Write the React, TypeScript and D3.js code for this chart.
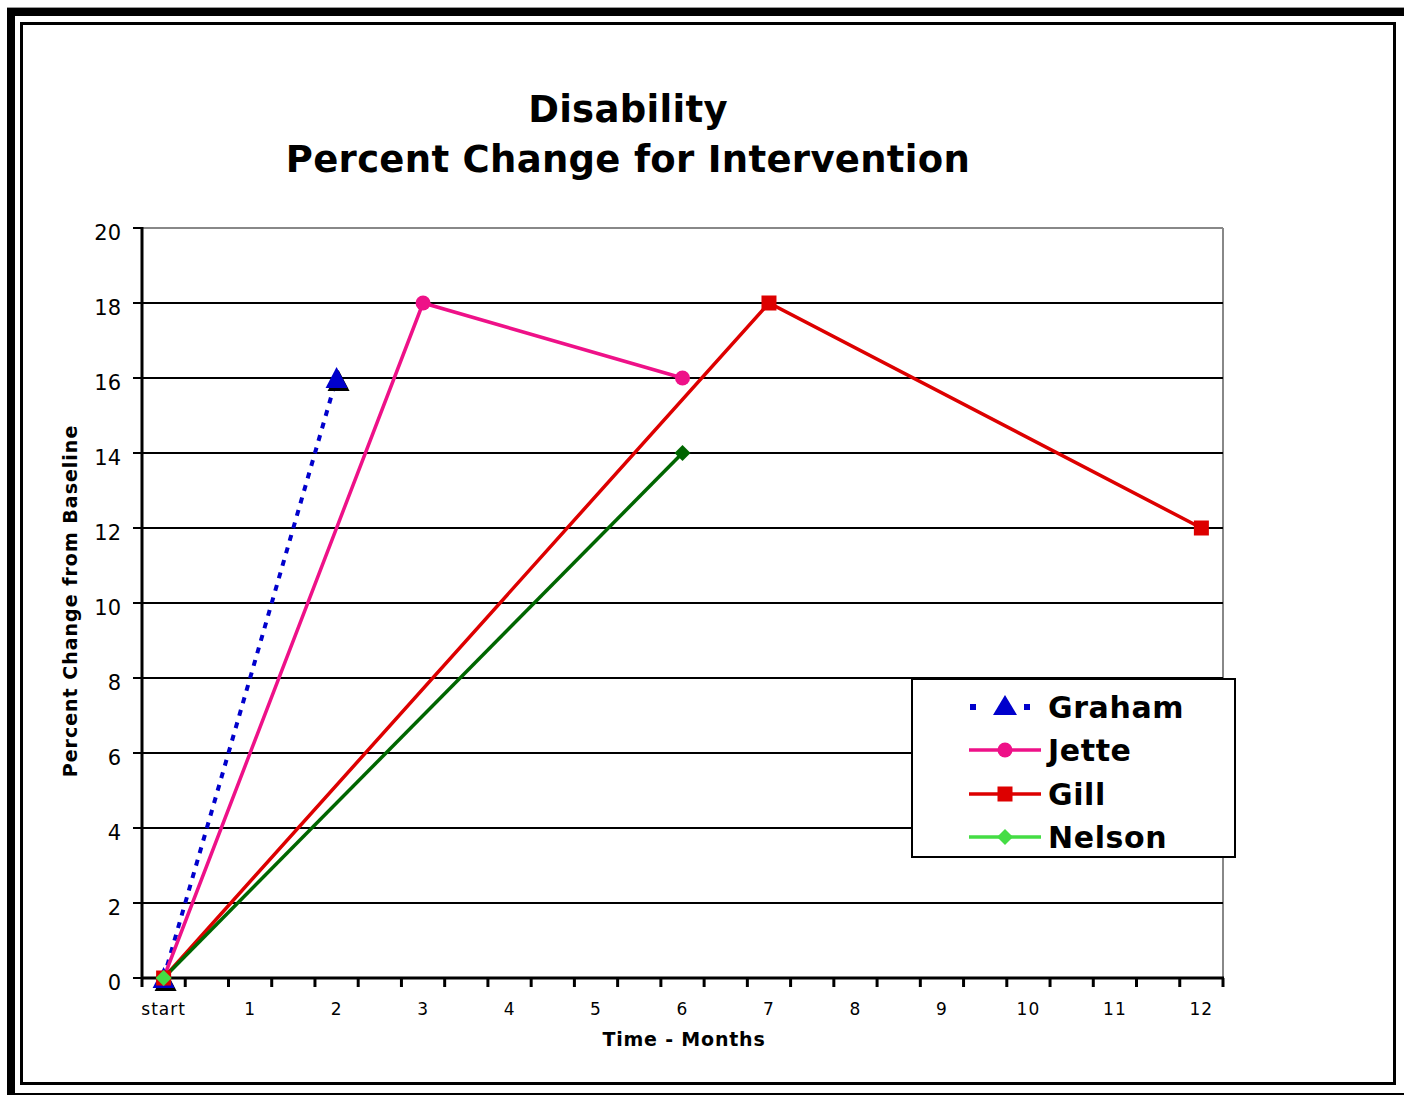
import React from "react";
import * as d3 from "d3";

const monthLabels = ["start", "1", "2", "3", "4", "5", "6", "7", "8", "9", "10", "11", "12"];
const yTicks = [0, 2, 4, 6, 8, 10, 12, 14, 16, 18, 20];

const grahamMonths = [0, 2];
const grahamValues = [0, 16];
const jetteMonths = [0, 3, 6];
const jetteValues = [0, 18, 16];
const gillMonths = [0, 7, 12];
const gillValues = [0, 18, 12];
const nelsonMonths = [0, 6];
const nelsonValues = [0, 14];

const seriesNames = ["Graham", "Jette", "Gill", "Nelson"];

const FONT = "'DejaVu Sans', Verdana, sans-serif";

function zip(ms: number[], vs: number[]) {
  return ms.map((m, i) => ({ m, v: vs[i] }));
}

const tri = (cx: number, cy: number, s = 1) =>
  `M${cx},${cy - 11 * s}L${cx + 11 * s},${cy + 10 * s}L${cx - 11 * s},${cy + 10 * s}Z`;
const diamond = (cx: number, cy: number, r = 8) =>
  `M${cx},${cy - r}L${cx + r},${cy}L${cx},${cy + r}L${cx - r},${cy}Z`;

export default function App() {
  const W = 1404, H = 1095;
  const left = 142, right = 1223, top = 228, bottom = 978;
  const x = d3.scaleLinear().domain([-0.25, 12.25]).range([left, right]);
  const y = d3.scaleLinear().domain([0, 20]).range([bottom, top]);
  const line = d3
    .line<{ m: number; v: number }>()
    .x((d) => x(d.m))
    .y((d) => y(d.v));

  const graham = zip(grahamMonths, grahamValues);
  const jette = zip(jetteMonths, jetteValues);
  const gill = zip(gillMonths, gillValues);
  const nelson = zip(nelsonMonths, nelsonValues);

  const xTicks = d3.range(0, 26).map((k) => -0.25 + 0.5 * k);

  const blue = "#0000CC";
  const pink = "#EE1188";
  const red = "#DD0000";
  const dkGreen = "#006600";
  const ltGreen = "#44DD44";

  const legendRows = [707, 750, 794, 837];

  return (
    <svg
      width={W}
      height={H}
      style={{ position: "absolute", left: 0, top: 0, display: "block", background: "#fff" }}
    >
      {/* outer frame */}
      <rect x={7} y={7} width={1397} height={1} fill="#999" />
      <rect x={7} y={8} width={1397} height={8} fill="#000" />
      <rect x={7} y={8} width={8} height={1087} fill="#000" />
      <rect x={7} y={1093} width={1397} height={2} fill="#000" />
      <rect x={21.5} y={23.5} width={1373} height={1060} fill="none" stroke="#000" strokeWidth={3} />

      {/* title */}
      <text x={628} y={122} textAnchor="middle" fontFamily={FONT} fontWeight="bold" fontSize={37} letterSpacing={0.3}>
        Disability
      </text>
      <text x={628} y={172} textAnchor="middle" fontFamily={FONT} fontWeight="bold" fontSize={37} letterSpacing={0.3}>
        Percent Change for Intervention
      </text>

      {/* plot border (gray) */}
      <line x1={left} x2={right} y1={top} y2={top} stroke="#888" strokeWidth={2} />
      <line x1={right} x2={right} y1={top} y2={bottom} stroke="#888" strokeWidth={2} />

      {/* gridlines */}
      {yTicks
        .filter((t) => t > 0 && t < 20)
        .map((t) => (
          <line key={t} x1={left} x2={right} y1={y(t)} y2={y(t)} stroke="#000" strokeWidth={2} />
        ))}

      {/* y axis */}
      <line x1={left} x2={left} y1={top - 1} y2={bottom + 1} stroke="#000" strokeWidth={3} />
      {yTicks.map((t) => (
        <g key={t}>
          <line x1={left - 9} x2={left} y1={y(t)} y2={y(t)} stroke="#000" strokeWidth={2} />
          <text x={121} y={y(t) + 12} textAnchor="end" fontFamily={FONT} fontSize={21}>
            {t}
          </text>
        </g>
      ))}

      {/* x axis */}
      <line x1={left} x2={right + 1} y1={bottom} y2={bottom} stroke="#000" strokeWidth={3} />
      {xTicks.map((t) => (
        <line key={t} x1={x(t)} x2={x(t)} y1={bottom} y2={bottom + 9} stroke="#000" strokeWidth={3} />
      ))}
      {monthLabels.map((lab, i) => (
        <text
          key={lab}
          x={x(i)}
          y={1015}
          textAnchor="middle"
          fontFamily={FONT}
          fontSize={17}
          letterSpacing={1}
        >
          {lab}
        </text>
      ))}

      {/* axis titles */}
      <text
        x={684}
        y={1046}
        textAnchor="middle"
        fontFamily={FONT}
        fontWeight="bold"
        fontSize={19}
        letterSpacing={0.8}
      >
        Time - Months
      </text>
      <text
        transform={`translate(77,${601}) rotate(-90)`}
        textAnchor="middle"
        fontFamily={FONT}
        fontWeight="bold"
        fontSize={19}
        letterSpacing={1}
      >
        Percent Change from Baseline
      </text>

      {/* series lines */}
      <path d={line(graham) || ""} fill="none" stroke={blue} strokeWidth={4} strokeDasharray="6 7" />
      <path d={line(jette) || ""} fill="none" stroke={pink} strokeWidth={3.5} />
      <path d={line(gill) || ""} fill="none" stroke={red} strokeWidth={3.5} />
      <path d={line(nelson) || ""} fill="none" stroke={dkGreen} strokeWidth={3.5} />

      {/* markers */}
      {graham.map((d, i) => (
        <g key={"g" + i}>
          <path d={tri(x(d.m) + 2, y(d.v) + 3)} fill="#000" />
          <path d={tri(x(d.m), y(d.v))} fill={blue} />
        </g>
      ))}
      {jette.map((d, i) => (
        <circle key={"j" + i} cx={x(d.m)} cy={y(d.v)} r={7.5} fill={pink} />
      ))}
      {gill.map((d, i) => (
        <rect key={"r" + i} x={x(d.m) - 7.5} y={y(d.v) - 7.5} width={15} height={15} fill={red} />
      ))}
      {nelson.map((d, i) => (
        <path key={"n" + i} d={diamond(x(d.m), y(d.v))} fill={i === 0 ? ltGreen : dkGreen} />
      ))}

      {/* legend */}
      <rect x={912} y={679} width={323} height={178} fill="#fff" stroke="#000" strokeWidth={2} />
      {seriesNames.map((name, i) => {
        const cy = legendRows[i];
        return (
          <g key={name}>
            {i === 0 && (
              <>
                <rect x={970} y={cy - 3} width={6} height={6} fill={blue} />
                <rect x={1024} y={cy - 3} width={6} height={6} fill={blue} />
                <path d={`M${1005},${cy - 12}L${1017},${cy + 8}L${993},${cy + 8}Z`} fill={blue} />
              </>
            )}
            {i === 1 && (
              <>
                <line x1={969} x2={1041} y1={cy} y2={cy} stroke={pink} strokeWidth={3.5} />
                <circle cx={1005} cy={cy} r={7.5} fill={pink} />
              </>
            )}
            {i === 2 && (
              <>
                <line x1={969} x2={1041} y1={cy} y2={cy} stroke={red} strokeWidth={3.5} />
                <rect x={997.5} y={cy - 7.5} width={15} height={15} fill={red} />
              </>
            )}
            {i === 3 && (
              <>
                <line x1={969} x2={1041} y1={cy} y2={cy} stroke={ltGreen} strokeWidth={3.5} />
                <path d={diamond(1005, cy, 8)} fill={ltGreen} />
              </>
            )}
            <text x={1048} y={cy + 11} fontFamily={FONT} fontWeight="bold" fontSize={30} letterSpacing={0.6}>
              {name}
            </text>
          </g>
        );
      })}
    </svg>
  );
}
